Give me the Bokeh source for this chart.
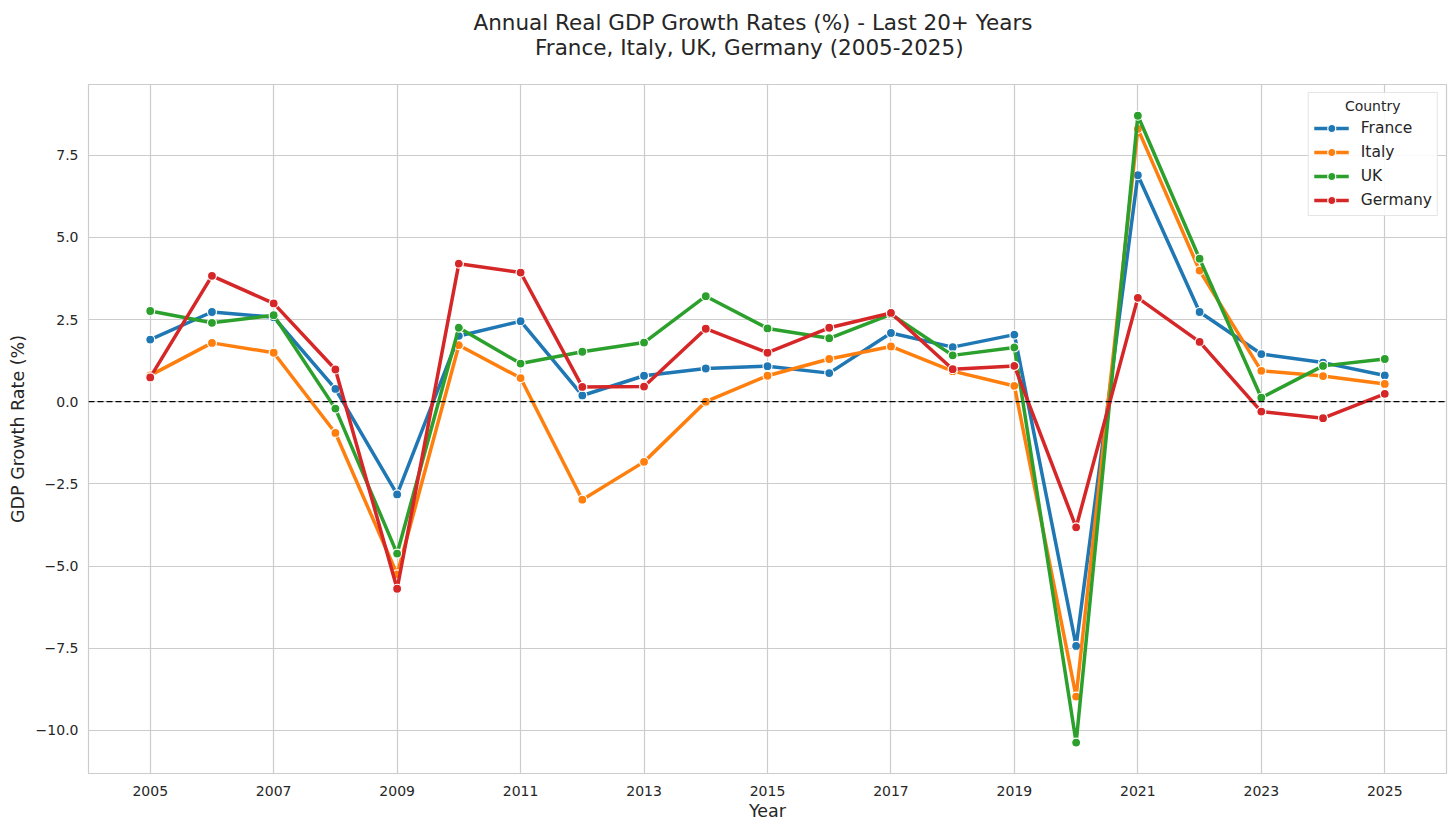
from bokeh.plotting import figure
from bokeh.models import Range1d, FixedTicker, Span, Title, Legend, LegendItem
from bokeh.embed import file_html
from bokeh.resources import INLINE

years = list(range(2005, 2026))
france = [1.89, 2.73, 2.57, 0.39, -2.82, 2.00, 2.45, 0.19, 0.79, 1.01, 1.08, 0.87, 2.09, 1.66, 2.04, -7.43, 6.89, 2.73, 1.45, 1.19, 0.80]
italy = [0.80, 1.79, 1.49, -0.95, -5.25, 1.72, 0.72, -2.98, -1.83, 0.00, 0.79, 1.30, 1.68, 0.93, 0.48, -8.97, 8.30, 3.99, 0.94, 0.78, 0.54]
uk = [2.76, 2.40, 2.63, -0.21, -4.62, 2.25, 1.16, 1.52, 1.80, 3.21, 2.23, 1.93, 2.66, 1.41, 1.65, -10.37, 8.70, 4.35, 0.12, 1.09, 1.30]
germany = [0.74, 3.83, 2.99, 0.98, -5.69, 4.20, 3.93, 0.45, 0.46, 2.22, 1.49, 2.25, 2.70, 0.99, 1.09, -3.82, 3.16, 1.82, -0.30, -0.50, 0.24]

countries = ["France", "Italy", "UK", "Germany"]
series = [france, italy, uk, germany]
colors = ["#1f77b4", "#ff7f0e", "#2ca02c", "#d62728"]

x_ticks = list(range(2005, 2026, 2))
y_ticks = [-10.0, -7.5, -5.0, -2.5, 0.0, 2.5, 5.0, 7.5]

title_line1 = "Annual Real GDP Growth Rates (%) - Last 20+ Years"
title_line2 = "France, Italy, UK, Germany (2005-2025)"
legend_title = "Country"

FONT = "DejaVu Sans"
TXT = "#262626"

p = figure(width=1448, height=823, output_backend="svg", toolbar_location=None,
           x_range=Range1d(2004.0, 2026.0), y_range=Range1d(-11.31, 9.65),
           min_border_left=88, min_border_right=2, min_border_top=84, min_border_bottom=40)
p.title.visible = False

# second line padded with no-break spaces so that both lines are centred;
# a blank third line keeps the gap between the title and the plot area
t = Title(text=title_line1 + "\n" + "\u00a0" * 9 + title_line2 + "\n\u00a0",
          align="left", offset=385, vertical_align="bottom",
          text_font=FONT, text_font_size="21.5px",
          text_font_style="normal", text_color=TXT, standoff=0, text_line_height=1.0)
p.add_layout(t, "above")

p.background_fill_color = "white"
p.border_fill_color = "white"
p.outline_line_color = "#cccccc"
p.outline_line_width = 1.2

for ax in (p.xaxis[0], p.yaxis[0]):
    ax.axis_line_color = None
    ax.major_tick_line_color = None
    ax.minor_tick_line_color = None
    ax.major_tick_out = 0
    ax.major_tick_in = 0
    ax.minor_tick_out = 0
    ax.minor_tick_in = 0
    ax.major_label_text_font = FONT
    ax.major_label_text_font_size = "14px"
    ax.major_label_text_color = TXT
    ax.axis_label_text_font = FONT
    ax.axis_label_text_font_size = "17.5px"
    ax.axis_label_text_font_style = "normal"
    ax.axis_label_text_color = TXT

p.xaxis.ticker = FixedTicker(ticks=x_ticks)
p.yaxis.ticker = FixedTicker(ticks=y_ticks)
p.yaxis.major_label_overrides = {t_: ("%.1f" % t_).replace("-", "\u2212") for t_ in y_ticks}
p.xaxis.major_label_standoff = 12
p.yaxis.major_label_standoff = 10
p.xaxis.axis_label = "Year"
p.yaxis.axis_label = "GDP Growth Rate (%)"
p.xaxis.axis_label_standoff = 2
p.yaxis.axis_label_standoff = 5
p.xaxis.major_label_text_line_height = 1.0
p.xaxis.axis_label_text_line_height = 1.0

p.xgrid.grid_line_color = "#cccccc"
p.ygrid.grid_line_color = "#cccccc"
p.xgrid.grid_line_width = 1.2
p.ygrid.grid_line_width = 1.2

zero = Span(location=0, dimension="width", line_color="black", line_width=1.3, line_dash="6 3")
p.add_layout(zero)

items = []
for name, vals, col in zip(countries, series, colors):
    l = p.line(years, vals, line_color=col, line_width=3.5)
    s = p.scatter(years, vals, size=9, fill_color=col, line_color="white", line_width=1.2)
    items.append(LegendItem(label=name, renderers=[l, s]))

legend = Legend(items=items, location="top_right", title="\u00a0" * 7 + legend_title,
                title_text_font=FONT, title_text_font_size="14px", title_text_color=TXT,
                title_text_font_style="normal", title_standoff=4,
                label_text_font=FONT, label_text_font_size="15.5px", label_text_color=TXT,
                glyph_width=35, glyph_height=20, label_standoff=12, spacing=4,
                padding=5, margin=8,
                border_line_color="#cccccc", border_line_width=1,
                background_fill_color="white", background_fill_alpha=0.85)
p.add_layout(legend, "center")

open("out.html", "w").write(file_html(p, INLINE))
